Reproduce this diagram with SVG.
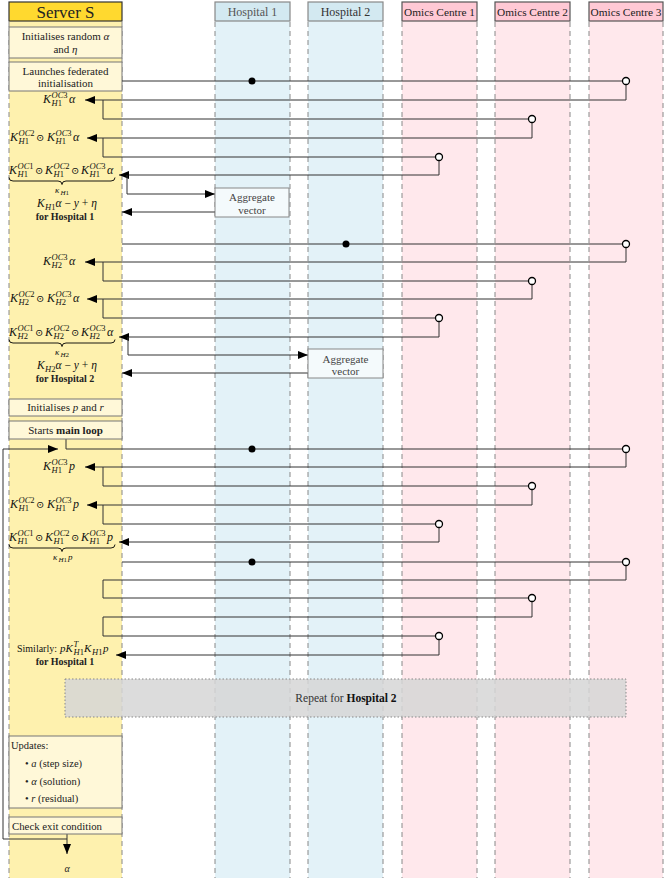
<svg xmlns="http://www.w3.org/2000/svg" width="665" height="880" viewBox="0 0 665 880">
<style>
.t{font-family:'Liberation Serif','DejaVu Serif',serif;font-size:11px;fill:#222}
.mt{font-family:'Liberation Serif','DejaVu Serif',serif;font-size:12px;fill:#111}
.m{font-style:italic}
.s{font-size:8.5px}
.b{font-weight:bold}
.od{font-family:'DejaVu Serif',serif;font-size:10px;font-style:normal}
.ls{fill:#FEF1AE}
.lh{fill:#E3F2F8}
.lo{fill:#FFE8EC}
.edge{stroke:#888;stroke-width:1;stroke-dasharray:5 4;fill:none}
.box{fill:#FFF8D8;stroke:#777;stroke-width:1}
.agg{fill:#F4FAFC;stroke:#888;stroke-width:1}
.c{stroke:#333;stroke-width:1;fill:none}
.ca{stroke:#333;stroke-width:1;fill:none;marker-end:url(#ah)}
.dot{fill:#000}
.oc{fill:#fff;stroke:#000;stroke-width:1.3}
.br{stroke:#000;stroke-width:0.9;fill:none}
</style>
<defs>
<marker id="ah" markerUnits="userSpaceOnUse" markerWidth="11" markerHeight="8" refX="10" refY="4" orient="auto">
<path d="M0,0 L10,4 L0,8 z" fill="#000"/>
</marker>
</defs>

<g id="lanes">
<rect class="ls" x="9" y="21" width="113" height="857"/>
<rect class="lh" x="215" y="21" width="75" height="857"/>
<rect class="lh" x="308" y="21" width="75" height="857"/>
<rect class="lo" x="402" y="21" width="75" height="857"/>
<rect class="lo" x="495" y="21" width="75" height="857"/>
<rect class="lo" x="589" y="21" width="74" height="857"/>
<path class="edge" d="M9,22V878M122,22V878M215,22V878M290,22V878M308,22V878M383,22V878M402,22V878M477,22V878M495,22V878M570,22V878M589,22V878M663,22V878"/>
</g>

<g id="header-server"><rect x="9" y="2" width="113" height="19" fill="#FFD92F" stroke="#333" stroke-width="1.2"/><text class="t" x="65.5" y="18" text-anchor="middle" style="font-size:17px">Server S</text></g>
<g id="header-h1"><rect x="215" y="2" width="75" height="19" fill="#D3E9F1" stroke="#888" stroke-width="1.2"/><text class="t" x="252.5" y="16" text-anchor="middle" style="font-size:12px;fill:#555">Hospital 1</text></g>
<g id="header-h2"><rect x="308" y="2" width="75" height="19" fill="#D3E9F1" stroke="#888" stroke-width="1.2"/><text class="t" x="345.5" y="16" text-anchor="middle" style="font-size:12px;fill:#333">Hospital 2</text></g>
<g id="header-oc1"><rect x="402" y="2" width="75" height="19" fill="#FFC9D5" stroke="#555" stroke-width="1.2"/><text class="t" x="439.5" y="16" text-anchor="middle" style="font-size:11.3px">Omics Centre 1</text></g>
<g id="header-oc2"><rect x="495" y="2" width="75" height="19" fill="#FFC9D5" stroke="#555" stroke-width="1.2"/><text class="t" x="532.5" y="16" text-anchor="middle" style="font-size:11.3px">Omics Centre 2</text></g>
<g id="header-oc3"><rect x="589" y="2" width="74" height="19" fill="#FFC9D5" stroke="#555" stroke-width="1.2"/><text class="t" x="626" y="16" text-anchor="middle" style="font-size:11.3px">Omics Centre 3</text></g>

<g id="init-random"><rect class="box" x="9" y="27" width="113" height="31"/><text class="t" x="65.5" y="39.5" text-anchor="middle">Initialises random <tspan class="m">α</tspan></text><text class="t" x="65.5" y="52.5" text-anchor="middle">and <tspan class="m">η</tspan></text></g>
<g id="launch"><rect class="box" x="9" y="62" width="113" height="29"/><text class="t" x="65.5" y="74.5" text-anchor="middle">Launches federated</text><text class="t" x="65.5" y="87" text-anchor="middle">initialisation</text></g>

<g id="connectors">
<path class="c" d="M122,81H622.5"/>
<path class="ca" d="M626,84.5V100H85"/>
<path class="c" d="M103,100V119H528.5"/>
<path class="ca" d="M532,122.5V138H87"/>
<path class="c" d="M103,138V157H435.5"/>
<path class="ca" d="M439,160.5V175H119"/>
<path class="ca" d="M127,175V194H215"/>
<path class="ca" d="M215,212H122"/>
<path class="c" d="M122,244H622.5"/>
<path class="ca" d="M626,247.5V262H85"/>
<path class="c" d="M103,262V281H528.5"/>
<path class="ca" d="M532,284.5V299H87"/>
<path class="c" d="M103,299V318H435.5"/>
<path class="ca" d="M439,321.5V337H119"/>
<path class="ca" d="M128,337V355H308"/>
<path class="ca" d="M308,373H122"/>
<path class="c" d="M66,439V449H622.5"/>
<path class="ca" d="M67,834V839H3V449H58"/>
<path class="ca" d="M626,452.5V467H85"/>
<path class="c" d="M103,467V486H528.5"/>
<path class="ca" d="M532,489.5V505H87"/>
<path class="c" d="M103,505V524H435.5"/>
<path class="ca" d="M439,527.5V542H119"/>
<path class="c" d="M122,562H622.5"/>
<path class="c" d="M626,565.5V580H103V598H528.5"/>
<path class="c" d="M532,601.5V617H103V636H435.5"/>
<path class="ca" d="M439,639.5V655H116"/>
<path class="ca" d="M67,839V854"/>
<circle class="dot" cx="252" cy="81" r="3.5"/>
<circle class="oc" cx="626" cy="81" r="3.5"/>
<circle class="oc" cx="532" cy="119" r="3.5"/>
<circle class="oc" cx="439" cy="157" r="3.5"/>
<circle class="dot" cx="346" cy="244" r="3.5"/>
<circle class="oc" cx="626" cy="244" r="3.5"/>
<circle class="oc" cx="532" cy="281" r="3.5"/>
<circle class="oc" cx="439" cy="318" r="3.5"/>
<circle class="dot" cx="252" cy="449" r="3.5"/>
<circle class="oc" cx="626" cy="449" r="3.5"/>
<circle class="oc" cx="532" cy="486" r="3.5"/>
<circle class="oc" cx="439" cy="524" r="3.5"/>
<circle class="dot" cx="252" cy="562" r="3.5"/>
<circle class="oc" cx="626" cy="562" r="3.5"/>
<circle class="oc" cx="532" cy="598" r="3.5"/>
<circle class="oc" cx="439" cy="636" r="3.5"/>
</g>

<g id="b1-oc3"><text class="mt"><tspan class="m" x="43" y="103">K</tspan><tspan class="s m" x="51.5" y="98">OC</tspan><tspan class="s">3</tspan><tspan class="s m" x="51.5" y="106">H</tspan><tspan class="s">1</tspan><tspan class="m" x="69" y="103">α</tspan></text></g>
<g id="b1-oc2"><text class="mt"><tspan class="m" x="10" y="141">K</tspan><tspan class="s m" x="18.5" y="136">OC</tspan><tspan class="s">2</tspan><tspan class="s m" x="18.5" y="144">H</tspan><tspan class="s">1</tspan><tspan class="od" x="36" y="141">⊙</tspan><tspan class="m" x="47" y="141">K</tspan><tspan class="s m" x="55.5" y="136">OC</tspan><tspan class="s">3</tspan><tspan class="s m" x="55.5" y="144">H</tspan><tspan class="s">1</tspan><tspan class="m" x="73" y="141">α</tspan></text></g>
<g id="b1-oc1"><text class="mt"><tspan class="m" x="9" y="174">K</tspan><tspan class="s m" x="17.5" y="169">OC</tspan><tspan class="s">1</tspan><tspan class="s m" x="17.5" y="177">H</tspan><tspan class="s">1</tspan><tspan class="od" x="35" y="174">⊙</tspan><tspan class="m" x="45" y="174">K</tspan><tspan class="s m" x="53.5" y="169">OC</tspan><tspan class="s">2</tspan><tspan class="s m" x="53.5" y="177">H</tspan><tspan class="s">1</tspan><tspan class="od" x="71" y="174">⊙</tspan><tspan class="m" x="81" y="174">K</tspan><tspan class="s m" x="89.5" y="169">OC</tspan><tspan class="s">3</tspan><tspan class="s m" x="89.5" y="177">H</tspan><tspan class="s">1</tspan><tspan class="m" x="107" y="174">α</tspan></text>
<path class="br" d="M9,177.5Q9,181 13,181H58Q62,181 62,184.5Q62,181 66,181H111Q115,181 115,177.5"/>
<text class="mt"><tspan class="m" x="55" y="193" style="font-size:9px">κ</tspan><tspan class="m" x="60.5" y="195" style="font-size:7px">H</tspan><tspan style="font-size:7px">1</tspan></text></g>
<g id="agg-h1"><rect class="agg" x="215" y="188" width="74" height="29"/><text class="t" x="252" y="201" text-anchor="middle" style="fill:#444">Aggregate</text><text class="t" x="252" y="214" text-anchor="middle" style="fill:#444">vector</text></g>
<g id="b1-result"><text class="mt" style="font-size:11.5px"><tspan class="m" x="37" y="207">K</tspan><tspan class="s m" x="45" y="210">H</tspan><tspan class="s">1</tspan><tspan class="m" x="55.5" y="207">α</tspan><tspan> − </tspan><tspan class="m">y</tspan><tspan> + </tspan><tspan class="m">η</tspan></text><text class="t b" x="65" y="220" text-anchor="middle" style="font-size:10px">for Hospital 1</text></g>

<g id="b2-oc3"><text class="mt"><tspan class="m" x="43" y="265">K</tspan><tspan class="s m" x="51.5" y="260">OC</tspan><tspan class="s">3</tspan><tspan class="s m" x="51.5" y="268">H</tspan><tspan class="s">2</tspan><tspan class="m" x="69" y="265">α</tspan></text></g>
<g id="b2-oc2"><text class="mt"><tspan class="m" x="10" y="302">K</tspan><tspan class="s m" x="18.5" y="297">OC</tspan><tspan class="s">2</tspan><tspan class="s m" x="18.5" y="305">H</tspan><tspan class="s">2</tspan><tspan class="od" x="36" y="302">⊙</tspan><tspan class="m" x="47" y="302">K</tspan><tspan class="s m" x="55.5" y="297">OC</tspan><tspan class="s">3</tspan><tspan class="s m" x="55.5" y="305">H</tspan><tspan class="s">2</tspan><tspan class="m" x="73" y="302">α</tspan></text></g>
<g id="b2-oc1"><text class="mt"><tspan class="m" x="9" y="336">K</tspan><tspan class="s m" x="17.5" y="331">OC</tspan><tspan class="s">1</tspan><tspan class="s m" x="17.5" y="339">H</tspan><tspan class="s">2</tspan><tspan class="od" x="35" y="336">⊙</tspan><tspan class="m" x="45" y="336">K</tspan><tspan class="s m" x="53.5" y="331">OC</tspan><tspan class="s">2</tspan><tspan class="s m" x="53.5" y="339">H</tspan><tspan class="s">2</tspan><tspan class="od" x="71" y="336">⊙</tspan><tspan class="m" x="81" y="336">K</tspan><tspan class="s m" x="89.5" y="331">OC</tspan><tspan class="s">3</tspan><tspan class="s m" x="89.5" y="339">H</tspan><tspan class="s">2</tspan><tspan class="m" x="107" y="336">α</tspan></text>
<path class="br" d="M9,339.5Q9,343 13,343H58Q62,343 62,346.5Q62,343 66,343H111Q115,343 115,339.5"/>
<text class="mt"><tspan class="m" x="55" y="355" style="font-size:9px">κ</tspan><tspan class="m" x="60.5" y="357" style="font-size:7px">H</tspan><tspan style="font-size:7px">2</tspan></text></g>
<g id="agg-h2"><rect class="agg" x="308" y="349" width="75" height="29"/><text class="t" x="345.5" y="362.5" text-anchor="middle" style="fill:#444">Aggregate</text><text class="t" x="345.5" y="375" text-anchor="middle" style="fill:#444">vector</text></g>
<g id="b2-result"><text class="mt" style="font-size:11.5px"><tspan class="m" x="37" y="369">K</tspan><tspan class="s m" x="45" y="372">H</tspan><tspan class="s">2</tspan><tspan class="m" x="55.5" y="369">α</tspan><tspan> − </tspan><tspan class="m">y</tspan><tspan> + </tspan><tspan class="m">η</tspan></text><text class="t b" x="65" y="382" text-anchor="middle" style="font-size:10px">for Hospital 2</text></g>

<g id="init-pr"><rect class="box" x="9" y="399" width="113" height="17"/><text class="t" x="65.5" y="411" text-anchor="middle">Initialises <tspan class="m">p</tspan> and <tspan class="m">r</tspan></text></g>
<g id="main-loop"><rect class="box" x="9" y="421" width="113" height="18"/><text class="t" x="65.5" y="433.5" text-anchor="middle">Starts <tspan class="b">main loop</tspan></text></g>

<g id="b3-oc3"><text class="mt"><tspan class="m" x="43" y="470">K</tspan><tspan class="s m" x="51.5" y="465">OC</tspan><tspan class="s">3</tspan><tspan class="s m" x="51.5" y="473">H</tspan><tspan class="s">1</tspan><tspan class="m" x="69" y="470">p</tspan></text></g>
<g id="b3-oc2"><text class="mt"><tspan class="m" x="10" y="508">K</tspan><tspan class="s m" x="18.5" y="503">OC</tspan><tspan class="s">2</tspan><tspan class="s m" x="18.5" y="511">H</tspan><tspan class="s">1</tspan><tspan class="od" x="36" y="508">⊙</tspan><tspan class="m" x="47" y="508">K</tspan><tspan class="s m" x="55.5" y="503">OC</tspan><tspan class="s">3</tspan><tspan class="s m" x="55.5" y="511">H</tspan><tspan class="s">1</tspan><tspan class="m" x="73" y="508">p</tspan></text></g>
<g id="b3-oc1"><text class="mt"><tspan class="m" x="9" y="541">K</tspan><tspan class="s m" x="17.5" y="536">OC</tspan><tspan class="s">1</tspan><tspan class="s m" x="17.5" y="544">H</tspan><tspan class="s">1</tspan><tspan class="od" x="35" y="541">⊙</tspan><tspan class="m" x="45" y="541">K</tspan><tspan class="s m" x="53.5" y="536">OC</tspan><tspan class="s">2</tspan><tspan class="s m" x="53.5" y="544">H</tspan><tspan class="s">1</tspan><tspan class="od" x="71" y="541">⊙</tspan><tspan class="m" x="81" y="541">K</tspan><tspan class="s m" x="89.5" y="536">OC</tspan><tspan class="s">3</tspan><tspan class="s m" x="89.5" y="544">H</tspan><tspan class="s">1</tspan><tspan class="m" x="107" y="541">p</tspan></text>
<path class="br" d="M9,544.5Q9,548 13,548H58Q62,548 62,551.5Q62,548 66,548H111Q115,548 115,544.5"/>
<text class="mt"><tspan class="m" x="53" y="560" style="font-size:9px">κ</tspan><tspan class="m" x="58.5" y="562" style="font-size:7px">H</tspan><tspan style="font-size:7px">1</tspan><tspan class="m" x="68" y="560" style="font-size:9px">p</tspan></text></g>

<g id="b4-similarly"><text class="mt" style="font-size:11px"><tspan x="17" y="651.5" style="font-size:10px;font-style:normal">Similarly: </tspan><tspan class="m" x="60" y="651.5">p</tspan><tspan class="m" x="65.5" y="651.5">K</tspan><tspan class="s m" x="73.5" y="646.5">T</tspan><tspan class="s m" x="73.5" y="654.5">H</tspan><tspan class="s">1</tspan><tspan class="m" x="84" y="651.5">K</tspan><tspan class="s m" x="92" y="654.5">H</tspan><tspan class="s">1</tspan><tspan class="m" x="103" y="651.5">p</tspan></text><text class="t b" x="65" y="664.5" text-anchor="middle" style="font-size:10px">for Hospital 1</text></g>

<g id="repeat"><rect x="65" y="679" width="561" height="38" fill="#D6D6D6" fill-opacity="0.85" stroke="#888" stroke-width="1" stroke-dasharray="1.5 2"/><text class="t" x="346" y="702" text-anchor="middle" style="font-size:11.5px;fill:#333">Repeat for <tspan class="b" style="fill:#111">Hospital 2</tspan></text></g>

<g id="updates"><rect class="box" x="9" y="736" width="113" height="72"/><text class="t" x="11" y="749" style="font-size:10.5px">Updates:</text><text class="t" x="25" y="767" style="font-size:10.5px">• <tspan class="m">a</tspan> (step size)</text><text class="t" x="25" y="785" style="font-size:10.5px">• <tspan class="m">α</tspan> (solution)</text><text class="t" x="25" y="802" style="font-size:10.5px">• <tspan class="m">r</tspan> (residual)</text></g>
<g id="check-exit"><rect class="box" x="9" y="817" width="113" height="17"/><text class="t" x="12" y="829.5" style="font-size:10.8px">Check exit condition</text></g>
<g id="output"><text class="t m" x="67" y="872" text-anchor="middle" style="font-size:10px">α</text></g>
</svg>
